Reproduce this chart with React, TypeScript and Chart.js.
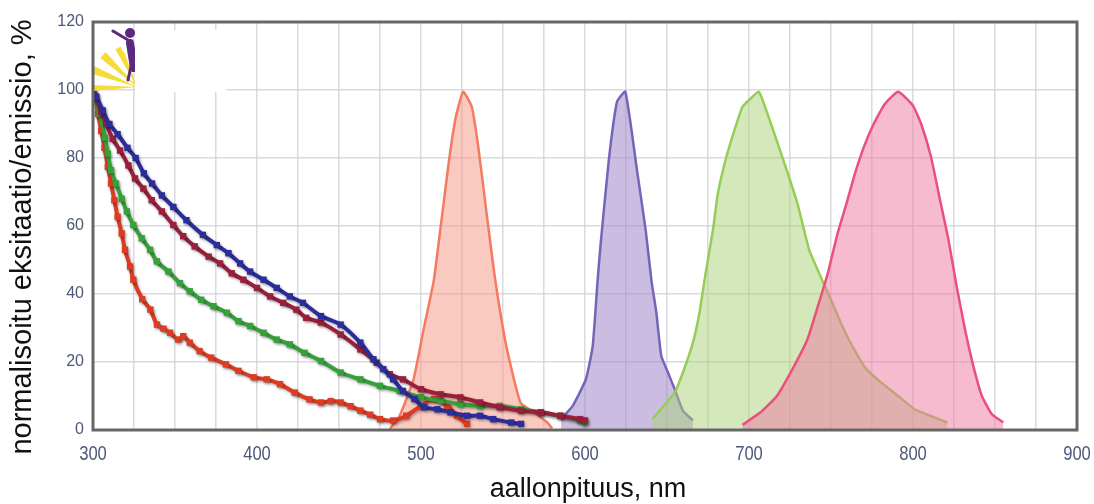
import React, { useEffect, useRef } from "react";
import { Chart, registerables } from "chart.js";
Chart.register(...registerables);

// ---------- data ----------
const xTickLabels = ["300", "400", "500", "600", "700", "800", "900"];
const yTickLabels = ["0", "20", "40", "60", "80", "100", "120"];

// excitation spectra (markers + line)
const blueExX = [300, 302, 306, 310, 315, 321, 326, 331, 336, 342, 349, 357, 367, 375.5, 382.6, 389.7, 395.8, 404, 412, 420, 428, 439, 451, 463, 471, 477, 483, 489, 496, 502, 510, 518, 528, 536, 544, 555, 561];
const blueExY = [99, 98, 94, 90, 87, 83, 80, 75.5, 72.5, 69, 65.6, 61.7, 57.4, 54.4, 52, 49, 46.6, 44.2, 41.8, 39.3, 37.4, 33.5, 31, 25.7, 20.8, 17.9, 14.9, 11.5, 9.1, 6.7, 6.1, 5.2, 4.2, 4.2, 3.2, 2.2, 1.8];

const maroonExX = [300, 301, 305, 308, 312, 316.5, 321.6, 325.6, 330.7, 335.8, 342, 349, 355, 362, 370.5, 377.5, 384.6, 391.7, 400, 408, 416, 424, 430, 439, 451, 463, 473, 481, 489, 500, 512, 524, 536, 548, 561, 573, 585, 597, 600];
const maroonExY = [100, 98.3, 93.5, 90, 85.6, 82.2, 77.8, 74, 71, 67.6, 64.3, 60.3, 57, 54, 51, 49, 46.1, 44.2, 41.8, 39.3, 37.4, 35.4, 33, 31.6, 28.1, 23.7, 19.8, 16.4, 14.9, 12, 10.5, 9.6, 8.1, 6.7, 5.7, 5.2, 4.2, 3.2, 2.8];

const greenExX = [300, 301, 304, 307.3, 309, 311, 314, 317.5, 320.6, 324.6, 329.7, 334.8, 338.9, 346, 353, 359, 366, 373.5, 381.6, 388.7, 395.8, 404, 412, 420, 429, 439, 451, 463, 475, 487, 500, 512, 524, 536, 548, 561, 573, 585, 597, 600];
const greenExY = [99, 98, 93, 86, 81.3, 76.4, 72.5, 68, 64.3, 60.3, 56.4, 53, 49.6, 46.6, 43.2, 40.8, 38.3, 36.4, 34.5, 32, 30.6, 28.6, 26.6, 25.2, 22.7, 20.3, 16.9, 14.9, 13, 11.5, 9.6, 8.6, 7.6, 7.1, 7.1, 6.1, 5.2, 4.2, 2.8, 2.2];

const redExX = [300, 301, 303, 305, 307, 309, 311, 313, 315, 317.5, 319.5, 322.6, 324.6, 330, 335, 339, 343, 347, 352, 355, 359, 365, 372, 381, 388.7, 398, 406, 414, 423, 432, 439, 445, 451, 457, 463, 469, 475, 483, 491, 500, 508, 516, 522, 528];
const redExY = [99, 98, 93, 88, 83, 77.4, 72.5, 67.6, 62.7, 57.8, 53, 48.1, 44.2, 38.5, 35.4, 31, 29.8, 28.6, 26.6, 27.6, 25.7, 23.2, 21.3, 19.3, 17.4, 15.5, 14.9, 13.5, 11, 9, 8.1, 8.5, 8.1, 7, 5.7, 4.5, 3.2, 2.8, 4.2, 7.1, 9.1, 7.1, 4.2, 1.8];

// emission spectra (filled)
const salmonEmX = [481, 487, 495.5, 501.6, 507.8, 512, 517, 521, 525.7, 531, 535, 540, 545, 552, 560.7, 568.8, 577, 580];
const salmonEmY = [0.3, 4.2, 15, 29.6, 44, 59.8, 79, 91.5, 99.5, 95, 83, 63.7, 45, 24.7, 8, 5.2, 2.2, 0.5];

const purpleEmX = [585.4, 592.5, 600.6, 604.7, 607.7, 609.4, 614.5, 619.5, 624.6, 632, 637, 640.5, 643.5, 646.5, 650.6, 654.7, 659.7, 665.8];
const purpleEmY = [3.2, 7.1, 15, 24.7, 44, 54, 79.3, 96.5, 99.5, 75.4, 58.8, 44, 34.5, 21.8, 16.9, 12, 5.7, 2.8];

const greenEmX = [641, 648, 654.7, 659.7, 665.8, 669.8, 673.5, 678, 681, 686, 691, 696, 701, 706, 712, 717, 723, 729.5, 736.7, 743.8, 750, 756, 763, 771.6, 780.5, 791, 801, 813, 821];
const greenEmY = [3.2, 7.1, 11, 16.9, 25.7, 34.5, 46, 58.8, 69.5, 80, 88, 95, 97.5, 99.5, 92, 85, 76.4, 66.7, 53, 45, 38.3, 31.5, 24.7, 17.9, 14, 10, 6.1, 3.7, 2.2];

const pinkEmX = [696, 707, 717, 727.5, 735.6, 742, 748, 754, 759.5, 764.6, 770, 776, 783, 791, 800, 805, 811, 816.5, 821.6, 826.6, 831.7, 836.8, 842, 848, 855];
const pinkEmY = [1.5, 5.2, 10, 18.8, 26.6, 36.4, 46, 57.8, 66.7, 75.4, 83.2, 90, 96, 99.5, 95.4, 90, 80.3, 67.6, 56, 42.3, 29.6, 18.8, 10, 4.7, 2.2];

const pts = (xs: number[], ys: number[]) => xs.map((x, i) => ({ x, y: ys[i] }));

const TITLE_FONT = "'Liberation Sans', Arial, sans-serif";
const TICK_COLOR = "#4b5878";

const exStyle = (color: string) => ({
  borderColor: color,
  backgroundColor: color,
  borderWidth: 4,
  pointStyle: "rect" as const,
  pointRadius: 4.5,
  pointBorderWidth: 0,
  pointBackgroundColor: color,
  fill: false,
  tension: 0.3,
});

const emStyle = (line: string, fillColor: string) => ({
  borderColor: line,
  backgroundColor: fillColor,
  borderWidth: 2.5,
  pointRadius: 0,
  fill: "origin",
  tension: 0.15,
});

const shadowPlugin = {
  id: "exShadow",
  beforeDatasetDraw(chart: any, args: any) {
    if (args.index < 4) {
      const ctx = chart.ctx;
      ctx.save();
      ctx.shadowColor = "rgba(0,0,0,0.35)";
      ctx.shadowBlur = 3;
      ctx.shadowOffsetX = 1;
      ctx.shadowOffsetY = 1.5;
    }
  },
  afterDatasetDraw(chart: any, args: any) {
    if (args.index < 4) chart.ctx.restore();
  },
};

const framePlugin = {
  id: "frameAndDecor",
  afterDatasetsDraw(chart: any) {
    const { ctx, chartArea: a } = chart;
    ctx.save();
    // logo approximation
    ctx.fillStyle = "#f4dc3a";
    const cx = 137, cy = 87;
    const rays: [number, number, number][] = [
      [93, 88, 3], [93, 70, 4], [103, 55, 4], [118, 48, 3], [122, 52, 2],
    ];
    rays.forEach(([ex, ey, w]) => {
      const dx = ex - cx, dy = ey - cy;
      const len = Math.hypot(dx, dy);
      const nx = -dy / len, ny = dx / len;
      ctx.beginPath();
      ctx.moveTo(cx, cy);
      ctx.lineTo(ex + nx * w, ey + ny * w);
      ctx.lineTo(ex - nx * w, ey - ny * w);
      ctx.closePath();
      ctx.fill();
    });
    ctx.fillStyle = "#5b2a80";
    ctx.strokeStyle = "#5b2a80";
    ctx.beginPath();
    ctx.arc(130, 33, 5, 0, Math.PI * 2);
    ctx.fill();
    ctx.lineCap = "round";
    ctx.lineWidth = 8;
    ctx.beginPath();
    ctx.moveTo(130, 43);
    ctx.lineTo(134, 68);
    ctx.stroke();
    ctx.lineWidth = 3;
    ctx.beginPath();
    ctx.moveTo(128, 40);
    ctx.lineTo(113, 31);
    ctx.stroke();
    ctx.beginPath();
    ctx.moveTo(132, 62);
    ctx.lineTo(128, 80);
    ctx.stroke();
    ctx.fillStyle = "#ffffff";
    ctx.fillRect(135, 30, 91, 62);

    // frame
    ctx.strokeStyle = "#666666";
    ctx.lineWidth = 3;
    ctx.strokeRect(a.left, a.top, a.right - a.left, a.bottom - a.top);

    // x tick labels (condensed), positioned by the x scale
    const xs = chart.scales.x;
    ctx.fillStyle = TICK_COLOR;
    ctx.font = `21px ${TITLE_FONT}`;
    ctx.textAlign = "center";
    ctx.textBaseline = "alphabetic";
    xTickLabels.forEach((lab) => {
      const px = xs.getPixelForValue(Number(lab));
      ctx.save();
      ctx.translate(px, 460);
      ctx.scale(0.79, 1);
      ctx.fillText(lab, 0, 0);
      ctx.restore();
    });

    // axis titles
    ctx.fillStyle = "#111111";
    ctx.font = `27px ${TITLE_FONT}`;
    ctx.textAlign = "center";
    ctx.textBaseline = "alphabetic";
    ctx.fillText("aallonpituus, nm", 588, 497);
    ctx.translate(31, 237);
    ctx.rotate(-Math.PI / 2);
    ctx.font = `29px ${TITLE_FONT}`;
    ctx.fillText("normalisoitu eksitaatio/emissio, %", 0, 0);
    ctx.restore();
  },
};

export default function App() {
  const ref = useRef<HTMLCanvasElement>(null);
  useEffect(() => {
    document.body.style.margin = "0";
    const chart = new Chart(ref.current!, {
      type: "line",
      data: {
        datasets: [
          { label: "blue", data: pts(blueExX, blueExY), ...exStyle("#2b2d9c") },
          { label: "maroon", data: pts(maroonExX, maroonExY), ...exStyle("#9a1f3c") },
          { label: "green", data: pts(greenExX, greenExY), ...exStyle("#36a03a") },
          { label: "red", data: pts(redExX, redExY), ...exStyle("#dc3c24") },
          { label: "pink", data: pts(pinkEmX, pinkEmY), ...emStyle("#e9507c", "rgba(240,120,160,0.5)") },
          { label: "greenEm", data: pts(greenEmX, greenEmY), ...emStyle("#96cd55", "rgba(170,210,120,0.5)") },
          { label: "purple", data: pts(purpleEmX, purpleEmY), ...emStyle("#7565b8", "rgba(160,135,200,0.55)") },
          { label: "salmon", data: pts(salmonEmX, salmonEmY), ...emStyle("#f47a60", "rgba(245,150,130,0.5)") },
        ] as any,
      },
      options: {
        animation: false,
        responsive: false,
        maintainAspectRatio: false,
        layout: { padding: { left: 0, top: 22, right: 17, bottom: 0 } },
        plugins: { legend: { display: false }, tooltip: { enabled: false } },
        elements: { line: { borderJoinStyle: "round" } },
        scales: {
          x: {
            type: "linear",
            min: 300,
            max: 900,
            afterFit: (s: any) => { s.height = 74; },
            border: { display: false },
            grid: { color: "rgba(205,205,215,0.75)", lineWidth: 1.5, drawTicks: false },
            ticks: {
              stepSize: 25,
              autoSkip: false,
              display: false,
            },
          },
          y: {
            type: "linear",
            min: 0,
            max: 120,
            afterFit: (s: any) => { s.width = 93; },
            border: { display: false },
            grid: { color: "rgba(205,205,215,0.75)", lineWidth: 1.5, drawTicks: false },
            ticks: {
              stepSize: 20,
              padding: 9,
              color: TICK_COLOR,
              font: { family: TITLE_FONT, size: 16 },
              callback: (v: any) => {
                const i = yTickLabels.indexOf(String(v));
                return i >= 0 ? yTickLabels[i] : "";
              },
            },
          },
        },
      },
      plugins: [shadowPlugin, framePlugin],
    });
    return () => chart.destroy();
  }, []);
  return (
    <div style={{ position: "absolute", left: 0, top: 0, width: 1094, height: 504 }}>
      <canvas ref={ref} width={1094} height={504} style={{ display: "block", width: 1094, height: 504 }} />
    </div>
  );
}
